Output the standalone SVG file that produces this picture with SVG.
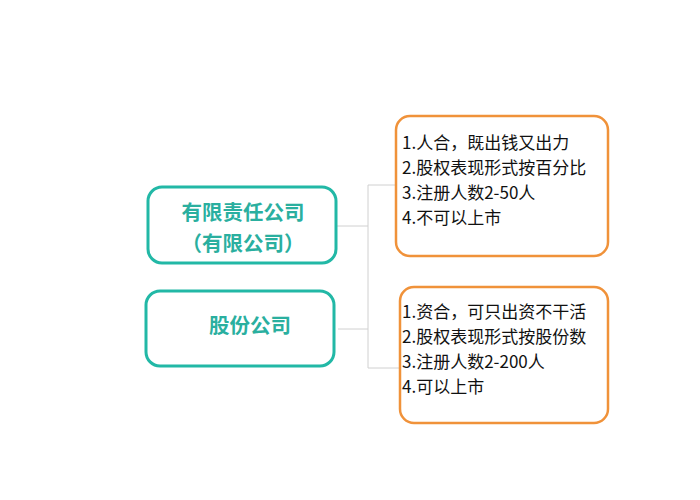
<svg xmlns="http://www.w3.org/2000/svg" width="700" height="500" viewBox="0 0 700 500">
<style>
.t{fill:none;stroke:#22b8a6;stroke-width:3}
.o{fill:none;stroke:#f0923a;stroke-width:2.5}
.tt{font-family:"Noto Sans CJK SC","Noto Sans",sans-serif;font-size:20.5px;font-weight:bold;fill:#2aaf9f;text-anchor:middle}
.ot{font-family:"Noto Sans CJK SC","Noto Sans",sans-serif;font-size:17px;fill:#111}
.c{fill:none;stroke:#d0d0d0;stroke-width:1}
</style>
<rect width="700" height="500" fill="#fff"/>
<g id="connectors">
<path class="c" d="M336 226H368M338 329H368M368 185V368M368 185H395M368 368H399"/>
</g>
<g id="n1"><rect class="t" x="148" y="187" width="188" height="76" rx="14"/>
<text class="tt" x="243" y="220">有限责任公司</text><text class="tt" x="243" y="251">（有限公司）</text></g>
<g id="n2"><rect class="t" x="146" y="291" width="188" height="75" rx="14"/>
<text class="tt" x="250" y="333">股份公司</text></g>
<g id="n3"><rect class="o" x="396" y="116" width="212" height="140" rx="14"/>
<text class="ot" x="402" y="149">1.人合，既出钱又出力</text>
<text class="ot" x="402" y="174">2.股权表现形式按百分比</text>
<text class="ot" x="402" y="199">3.注册人数2-50人</text>
<text class="ot" x="402" y="224">4.不可以上市</text></g>
<g id="n4"><rect class="o" x="400" y="287" width="208" height="136" rx="14"/>
<text class="ot" x="402" y="318">1.资合，可只出资不干活</text>
<text class="ot" x="402" y="343">2.股权表现形式按股份数</text>
<text class="ot" x="402" y="368">3.注册人数2-200人</text>
<text class="ot" x="402" y="393">4.可以上市</text></g>
</svg>
